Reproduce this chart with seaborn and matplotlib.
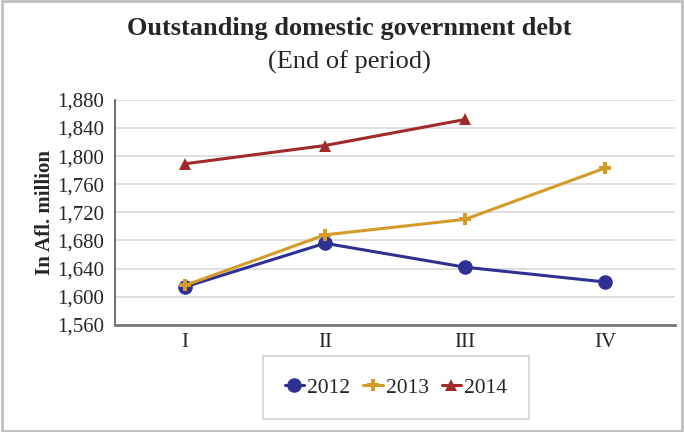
import pandas as pd
import matplotlib
matplotlib.use('Agg')
import matplotlib.pyplot as plt
import seaborn as sns
from matplotlib.patches import Rectangle

# data
quarters = ['I', 'II', 'III', 'IV']
debt_2012 = [1614, 1676, 1642, 1621]
debt_2013 = [1616, 1688, 1710, 1783]
debt_2014 = [1789, 1815, 1852]
yticks = [1560, 1600, 1640, 1680, 1720, 1760, 1800, 1840, 1880]

rows = []
for year, vals in [('2012', debt_2012), ('2013', debt_2013), ('2014', debt_2014)]:
    for i, v in enumerate(vals):
        rows.append({'quarter': i, 'year': year, 'debt': v})
df = pd.DataFrame(rows)

sns.set_style('white')
plt.rcParams['font.family'] = ['Liberation Serif', 'DejaVu Serif']

fig = plt.figure(figsize=(6.84, 4.32), dpi=100)
ax = fig.add_axes([0.168, 0.248, 0.819, 0.521])

palette = {'2012': '#2E3192', '2013': '#D49A2A', '2014': '#A0292B'}
markers = {'2012': 'o', '2013': 'P', '2014': '^'}
sizes = {'2012': 10.5, '2013': 8.5, '2014': 8.5}

for year in ['2012', '2013', '2014']:
    sub = df[df['year'] == year]
    sns.lineplot(data=sub, x='quarter', y='debt', ax=ax, color=palette[year],
                 marker=markers[year], markersize=sizes[year], linewidth=2.2,
                 markeredgewidth=0, label=year)

ax.set_xlim(-0.5, 3.5)
ax.set_ylim(1560, 1880)
ax.set_xticks(range(len(quarters)))
ax.set_xticklabels(quarters, fontsize=15)
ax.set_yticks(yticks)
ax.set_yticklabels([f'{t:,}' for t in yticks], fontsize=15)
ax.yaxis.grid(True, color='#D9D9D9', linewidth=1.2)
ax.tick_params(axis='y', length=0, pad=8)
ax.tick_params(axis='x', length=0, pad=6)
ax.set_xlabel('')
ax.set_ylabel('In Afl. million', fontsize=15, fontweight='bold', labelpad=1)

for s in ['top', 'right']:
    ax.spines[s].set_visible(False)
ax.spines['left'].set_color('#555555')
ax.spines['left'].set_linewidth(1.2)
ax.spines['bottom'].set_color('#777777')
ax.spines['bottom'].set_linewidth(2)

fig.text(0.511, 0.935, 'Outstanding domestic government debt', ha='center', va='center',
         fontsize=19, fontweight='bold')
fig.text(0.511, 0.856, '(End of period)', ha='center', va='center', fontsize=19)

leg = ax.legend(loc='center', bbox_to_anchor=(0.579, 0.102), bbox_transform=fig.transFigure,
                ncol=3, frameon=True, fancybox=False, fontsize=15.5, handlelength=0.9,
                handletextpad=0.15, columnspacing=0.6, borderpad=1.0, borderaxespad=0)
leg.get_frame().set_edgecolor('#C8C8C8')
leg.get_frame().set_linewidth(1.2)

fig.patches.append(Rectangle((0.003, 0.003), 0.994, 0.994, transform=fig.transFigure,
                             fill=False, edgecolor='#C0C0C0', linewidth=2))

fig.savefig('out.png', dpi=100)
